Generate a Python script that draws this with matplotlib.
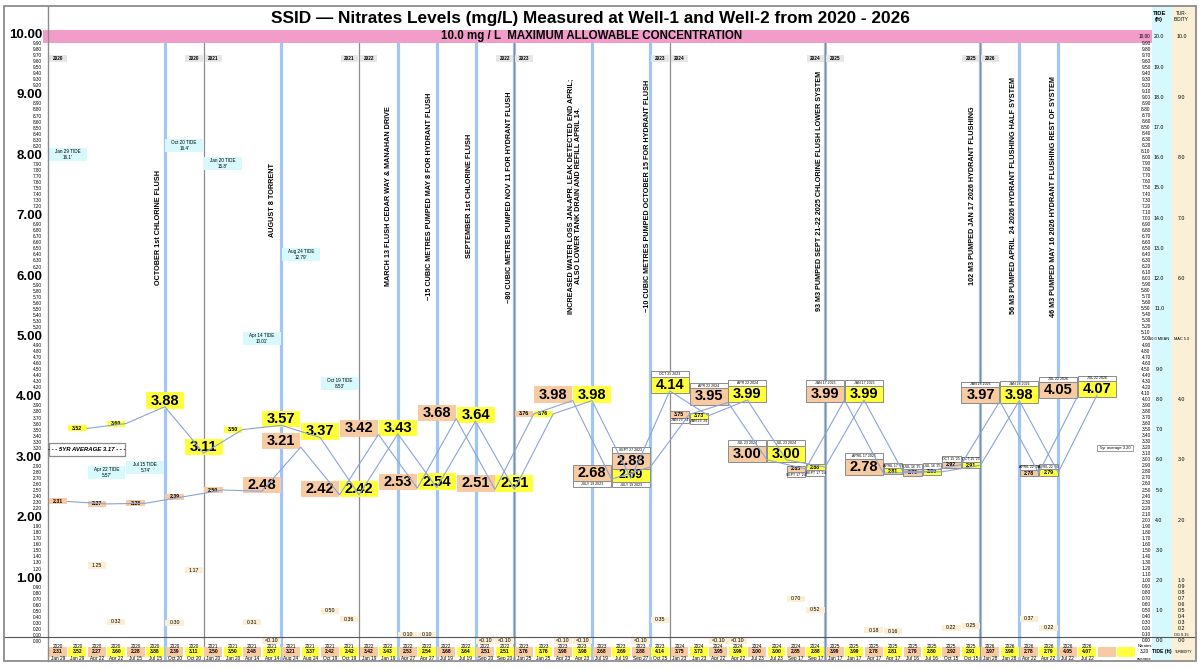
import matplotlib.pyplot as plt
import matplotlib.transforms as mtransforms
import numpy as np
from matplotlib.patches import Rectangle

plt.rcParams["font.family"] = ["Liberation Sans", "DejaVu Sans"]

# ---------------- data (one entry per table column) ----------------
years = [2020] * 8 + [2021] * 8 + [2022] * 8 + [2023] * 8 + [2024] * 8 + [2025] * 8 + [2026] * 6
dates = [
    "Jan 29", "Jan 29", "Apr 22", "Apr 22", "Jul 15", "Jul 15", "Oct 20", "Oct 20",
    "Jan 20", "Jan 20", "Apr 14", "Apr 14", "Aug 24", "Aug 24", "Oct 19", "Oct 19",
    "Jan 19", "Jan 19", "Apr 27", "Apr 27", "Jul 19", "Jul 19", "Sep 20", "Sep 20",
    "Jan 25", "Jan 25", "Apr 23", "Apr 23", "Jul 19", "Jul 19", "Sep 27", "Oct 25",
    "Jan 23", "Jan 23", "Apr 22", "Apr 22", "Jul 23", "Jul 23", "Sep 17", "Sep 17",
    "Jan 17", "Jan 17", "Apr 17", "Apr 17", "Jul 16", "Jul 16", "Oct 15", "Oct 15",
    "Jan 28", "Jan 28", "Apr 22", "Apr 22", "Jul 22", "Jul 22",
]
nitrate = [
    2.31, 3.52, 2.27, 3.60, 2.28, 3.88, 2.39, 3.11,
    2.50, 3.50, 2.48, 3.57, 3.21, 3.37, 2.42, 2.42,
    3.42, 3.43, 2.53, 2.54, 3.68, 3.64, 2.51, 2.51,
    3.76, 3.76, 3.98, 3.98, 2.68, 2.69, 2.88, 4.14,
    3.75, 3.73, 3.95, 3.99, 3.00, 3.00, 2.85, 2.88,
    3.99, 3.99, 2.78, 2.81, 2.79, 2.80, 2.92, 2.91,
    3.97, 3.98, 2.78, 2.79, 4.05, 4.07,
]
well = [1, 2] * 27
turbidity = [
    "", "", "1.25", "0.32", "", "", "0.30", "1.17",
    "", "", "0.31", "<0.10", "", "", "0.50", "0.36",
    "", "", "0.10", "0.10", "", "", "<0.10", "<0.10",
    "", "", "<0.10", "<0.10", "", "", "<0.10", "0.35",
    "", "", "<0.10", "<0.10", "", "", "0.70", "0.52",
    "", "", "0.18", "0.16", "", "", "0.22", "0.25",
    "", "", "0.37", "0.22", "", "",
]

tide_cols = [0, 2, 4, 6, 8, 10, 12, 14]
tide_ft = [16.1, 5.57, 5.74, 16.4, 15.8, 10.01, 12.79, 8.53]

event_cols = [6, 12, 18, 20, 22, 24, 28, 31, 40, 48, 50, 52]
event_notes = [
    "OCTOBER 1st CHLORINE FLUSH",
    "AUGUST 8 TORRENT",
    "MARCH 13 FLUSH CEDAR WAY & MANAHAN DRIVE",
    "~15 CUBIC METRES PUMPED MAY 8 FOR HYDRANT FLUSH",
    "SEPTEMBER 1st CHLORINE FLUSH",
    "~80 CUBIC METRES PUMPED NOV 11 FOR HYDRANT FLUSH",
    "INCREASED WATER LOSS JAN-APR. LEAK DETECTED END APRIL;\nALSO LOWER TANK DRAIN AND REFILL APRIL 14.",
    "~10 CUBIC METRES PUMPED OCTOBER 15 FOR HYDRANT FLUSH",
    "93 M3 PUMPED SEPT 21-22 2025 CHLORINE FLUSH LOWER SYSTEM",
    "102 M3 PUMPED JAN 17 2026 HYDRANT FLUSHING",
    "56 M3 PUMPED APRIL  24 2026 HYDRANT FLUSHING HALF SYSTEM",
    "46 M3 PUMPED MAY 16 2026 HYDRANT FLUSHING REST OF SYSTEM",
]

avg_5yr = 3.17
avg_all = 3.20
max_allowed = 10.0

# ---------------- layout of the value labels (slot, kind, tag, tag side) ----------------
label_layout = [
    (0.5, "S", "", ""), (1.5, "S", "", ""), (2.5, "S", "", ""), (3.5, "S", "", ""),
    (4.5, "S", "", ""), (6, "B", "", ""), (6.5, "S", "", ""), (8, "B", "", ""),
    (8.5, "S", "", ""), (9.5, "S", "", ""), (11, "B", "", ""), (12, "B", "", ""),
    (12, "B", "", ""), (14, "B", "", ""), (14, "B", "", ""), (16, "B", "", ""),
    (16, "B", "", ""), (18, "B", "", ""), (18, "B", "", ""), (20, "B", "", ""),
    (20, "B", "", ""), (22, "B", "", ""), (22, "B", "", ""), (24, "B", "", ""),
    (24.5, "S", "", ""), (25.5, "S", "", ""), (26, "B", "", ""), (28, "B", "", ""),
    (28, "B", "JULY 19 2023", "below"), (30, "M", "JULY 19 2023", "below"),
    (30, "B", "SEPT 27 2023", "above"), (32, "B", "OCT 25 2023", "above"),
    (32.5, "S", "JAN 23 '24", "below"), (33.5, "S", "JAN 23 '24", "below"),
    (34, "B", "APR 22 2024", "above"), (36, "B", "APR 22 2024", "above"),
    (36, "B", "JUL 23 2024", "above"), (38, "B", "JUL 23 2024", "above"),
    (38.5, "S", "SEPT 17 '24", "below"), (39.5, "S", "SEPT 17 '24", "below"),
    (40, "B", "JAN 17 2025", "above"), (42, "B", "JAN 17 2025", "above"),
    (42, "B", "APRIL 17 2025", "above"), (43.5, "S", "APRIL 17 '25", "above"),
    (44.5, "S", "JUL 16 '25", "above"), (45.5, "S", "JUL 16 '25", "above"),
    (46.5, "S", "OCT 15 '25", "above"), (47.5, "S", "OCT 15 '25", "above"),
    (48, "B", "JAN 28 2026", "above"), (50, "B", "JAN 28 2026", "above"),
    (50.5, "S", "APRIL 22 '26", "above"), (51.5, "S", "APRIL 22 '26", "above"),
    (52, "B", "JUL 22 2026", "above"), (54, "B", "JUL 22 2026", "above"),
]
note_dx = [-0.35, -0.48, -0.46, -0.35, -0.29, -0.23, -0.88, -0.17, -0.31, -0.43, -0.32, -0.26]
note_y = [6.85, 7.3, 7.37, 7.37, 7.37, 7.35, 7.37, 7.37, 7.45, 7.37, 7.37, 7.35]

ORANGE = "#f7caa2"
YELLOW = "#ffff3c"
CYAN = "#d7f8fc"
BEIGE = "#fbf0d6"
PINK = "#f29dc9"
EVENT_BLUE = "#a2c6f3"
LINE_BLUE = "#8aa4d6"
GRAY = "#8c8c8c"

# ---------------- figure / axes in pixel-matched units ----------------
fig = plt.figure(figsize=(12, 6.69), dpi=100)
X0, X1, YT, YB = 48.3, 1196.0, 6.0, 661.0
COL, UNIT, Y_ZERO = 19.42, 60.4, 641.0
ax = fig.add_axes([X0 / 1200, 1 - YB / 669, (X1 - X0) / 1200, (YB - YT) / 669])
XMAX = (X1 - X0) / COL
YMIN, YMAX = (Y_ZERO - YB) / UNIT, (Y_ZERO - YT) / UNIT
ax.set_xlim(0, XMAX)
ax.set_ylim(YMIN, YMAX)
for s in ["top", "right", "bottom"]:
    ax.spines[s].set_visible(False)
ax.spines["left"].set_color(GRAY)
ax.spines["left"].set_linewidth(1.0)
ax.set_xticks([])

fig.add_artist(Rectangle((4 / 1200, 1 - YB / 669), 1192 / 1200, (YB - YT) / 669,
                         transform=fig.transFigure, fill=False, ec=GRAY, lw=1.3))

TIDE_L, TURB_L = (1152 - X0) / COL, (1172 - X0) / COL
ax.add_patch(Rectangle((TIDE_L, YMIN), TURB_L - TIDE_L, YMAX - YMIN, fc=CYAN, ec="none", zorder=0))
ax.add_patch(Rectangle((TURB_L, YMIN), XMAX - TURB_L, YMAX - YMIN, fc=BEIGE, ec="none", zorder=0))

# left axis: big integer labels + small tenths
major = list(range(1, 11))
minor = [0.0, 0.1] + [round(n + f / 10, 1) for n in range(10) for f in range(2, 10)]
ax.set_yticks(major, [f"{v:.2f}" for v in major])
ax.set_yticks(minor, [f"{v:.2f}" for v in minor], minor=True)
ax.tick_params(axis="y", which="both", length=0, pad=4.5)
ax.tick_params(axis="y", which="major", labelsize=9.5)
ax.tick_params(axis="y", which="minor", labelsize=3.3)
lift = mtransforms.ScaledTranslation(0, 3.5 / 100, fig.dpi_scale_trans)
for t in ax.yaxis.get_majorticklabels():
    t.set_fontweight("bold")
    t.set_transform(t.get_transform() + lift)

# right scale, tide and turbidity columns
for v in np.round(np.arange(0, 10.01, 0.1), 1):
    ax.text(56.76, v, f"{v:.2f}", ha="right", va="center", fontsize=3.4, zorder=6)
for v in np.round(np.arange(0, 10.01, 0.5), 1):
    tide = 2 * v
    txt = "10.0 MEAN" if v == 5.0 else f"{tide:.1f}"
    ax.text(57.2, v, txt, ha="center", va="center", fontsize=2.8 if v == 5.0 else 3.8, zorder=6)
turb_marks = list(range(1, 11)) + [round(0.1 * i, 1) for i in range(0, 10)]
for v in turb_marks:
    txt = "MAC 5.0" if v == 5 else ("OG 0.15" if v == 0.1 else f"{v:.1f}")
    ax.text(58.35, v, txt, ha="center", va="center", fontsize=2.8 if v in (5, 0.1) else 3.8, zorder=6)
ax.text(57.2, 10.34, "TIDE\n(ft)", ha="center", va="center", fontsize=4.2, fontweight="bold", linespacing=1.1)
ax.text(58.35, 10.34, "TUR-\nBIDITY", ha="center", va="center", fontsize=3.3, linespacing=1.1)

# title and limit band
ax.text(27.9, 10.30, "SSID \u2014 Nitrates Levels (mg/L) Measured at Well-1 and Well-2 from 2020 - 2026",
        ha="center", va="center", fontsize=12.4, fontweight="bold")
ax.add_patch(Rectangle((-0.27, max_allowed - 0.1), TIDE_L + 0.27, 0.22, fc=PINK, ec="none",
                       zorder=2, clip_on=False))
ax.text(28.0, max_allowed + 0.01, "10.0 mg / L  MAXIMUM ALLOWABLE CONCENTRATION", ha="center",
        va="center", fontsize=8.3, fontweight="bold", zorder=3)

# vertical separators: year changes (gray) and events (blue)
n = len(nitrate)
for k in range(1, n):
    if years[k] != years[k - 1]:
        ax.plot([k, k], [YMIN, 9.9], color=GRAY, lw=0.9, zorder=1.2)
for k in event_cols:
    ax.plot([k, k], [YMIN, 9.9], color=EVENT_BLUE, lw=2.3, zorder=1.1)

for k, note, dx, yc in zip(event_cols, event_notes, note_dx, note_y):
    ax.text(k + dx, yc, note, rotation=90, ha="center", va="center", fontsize=5.2,
            fontweight="bold", multialignment="center", linespacing=1.2, zorder=5)

# year tags along the top
for k in range(n):
    first = k == 0 or years[k] != years[k - 1]
    last = k < n - 1 and years[k + 1] != years[k]
    if first or last:
        ax.add_patch(Rectangle((k + 0.05, 9.59), 0.9, 0.12, fc="#e6e6e6", ec="none", zorder=2))
        ax.text(k + 0.5, 9.65, str(years[k]), ha="center", va="center", fontsize=3.4,
                fontweight="bold", zorder=3)


def box(x, y, w, h, fc, text, fs, bold=True, ec="none", lw=0.0, z=3.0, style="normal"):
    ax.add_patch(Rectangle((x - w / 2, y - h / 2), w, h, fc=fc, ec=ec, lw=lw, zorder=z, clip_on=False))
    ax.text(x, y, text, ha="center", va="center", fontsize=fs, fontweight="bold" if bold else "normal",
            fontstyle=style, zorder=z + 0.1, clip_on=False)


# tide boxes
for c, ft in zip(tide_cols, tide_ft):
    box(c + 1, ft / 2, 1.95, 0.215, CYAN, f"{dates[c]} TIDE\n{ft:g}'", 3.3, bold=False, z=2)

# averages
box(2.0, avg_5yr, 3.95, 0.2, "white", f"- - - 5YR AVERAGE {avg_5yr:.2f} - - -", 4.3, ec=GRAY,
    lw=0.9, style="italic")
box(54.93, avg_all, 1.85, 0.1, "white", f"5yr average {avg_all:.2f}", 3.0, bold=False, ec=GRAY, lw=0.6)

# turbidity boxes
for c, tb in enumerate(turbidity):
    if tb:
        yv = 0.0 if tb.startswith("<") else float(tb)
        box(c + 0.5, yv, 0.95, 0.1, "#fbeed2", tb, 3.8, bold=False, z=2)

# nitrate lines (vertex at right edge of each sample column)
for w in (1, 2):
    xs = [c + 1 for c in range(n) if well[c] == w]
    ys = [nitrate[c] for c in range(n) if well[c] == w]
    ax.plot(xs, ys, color=LINE_BLUE, lw=0.8, zorder=4)

# nitrate value labels
sizes = {"B": (1.96, 0.27, 10.5, 0.10), "M": (1.96, 0.23, 9.0, 0.06), "S": (0.95, 0.1, 3.8, 0.0)}
for c, (xs, kind, tag, side) in enumerate(label_layout):
    w, h, fs, dy = sizes[kind]
    fc = ORANGE if well[c] == 1 else YELLOW
    yc = nitrate[c] + dy
    ec = GRAY if tag else "none"
    box(xs, yc, w, h, fc, f"{nitrate[c]:.2f}", fs, ec=ec, lw=0.7 if tag else 0.0)
    if tag:
        th = 0.09
        ty = yc + h / 2 + th / 2 if side == "above" else yc - h / 2 - th / 2
        box(xs, ty, w, th, "white", tag, 2.5, bold=False, ec=GRAY, lw=0.7)

# bottom table
ax.plot([(4 - X0) / COL, XMAX], [0.066, 0.066], color="#555555", lw=0.8, zorder=3, clip_on=False)
for c in range(n + 2):
    fc = ORANGE if c % 2 == 0 else YELLOW
    ax.add_patch(Rectangle((c + 0.04, -0.265), 0.92, 0.165, fc=fc, ec="none", zorder=2))
    if c < n:
        ax.text(c + 0.5, -0.083, str(years[c]), ha="center", va="center", fontsize=3.4, zorder=3)
        ax.text(c + 0.5, -0.18, f"{nitrate[c]:.2f}", ha="center", va="center", fontsize=3.6,
                fontweight="bold", zorder=3)
        ax.text(c + 0.5, -0.295, dates[c], ha="center", va="center", fontsize=3.4, zorder=3)
ax.text(56.45, -0.083, "Nitrates", ha="center", va="center", fontsize=3.0)
ax.text(56.45, -0.18, f"{avg_all:.2f}", ha="center", va="center", fontsize=3.4)
ax.text(56.45, -0.295, "average", ha="center", va="center", fontsize=3.0)
ax.text(57.35, -0.18, "TIDE (ft)", ha="center", va="center", fontsize=3.6, fontweight="bold")
ax.text(58.45, -0.18, "TURBIDITY", ha="center", va="center", fontsize=2.4)

fig.savefig("out.png", dpi=100)
